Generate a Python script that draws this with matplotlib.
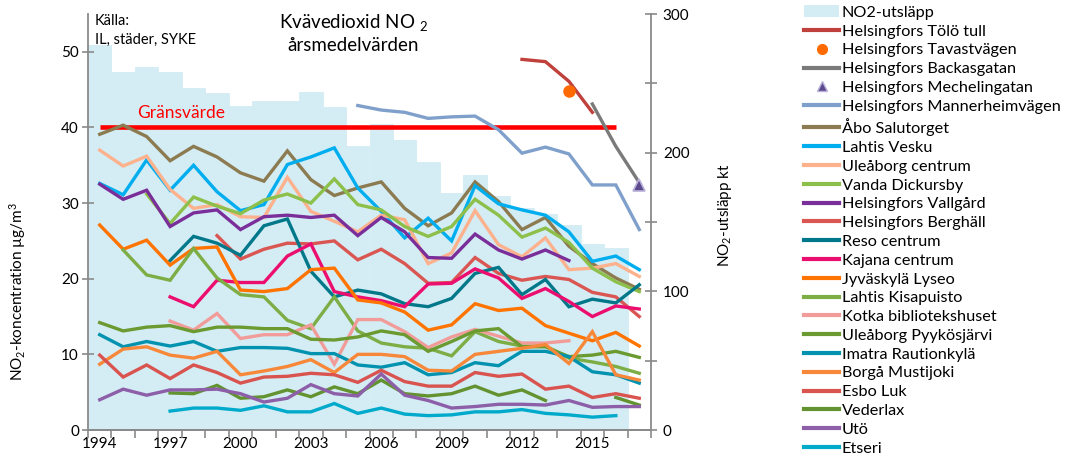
import matplotlib.pyplot as plt
import numpy as np
from matplotlib.lines import Line2D
from matplotlib.patches import Patch

nan = np.nan

# Data
years = list(range(1994, 2018))
emission_years = list(range(1994, 2017))
emission_kt = [277.8, 258.5, 262, 258.5, 246.5, 243, 234, 237, 237, 244, 232.8, 205,
               220.8, 209, 193, 171, 184, 168.5, 160, 155.5, 147.5, 134, 131]

tolo_tull = [nan] * 18 + [49.0, 48.7, 46.1, 42.0, nan, nan]
tavastvagen = [nan] * 20 + [44.8, nan, nan, nan]
backasgatan = [nan] * 21 + [43.1, 37.5, 32.7]
mechelingatan = [nan] * 23 + [32.4]
mannerheimvagen = [nan] * 11 + [42.9, 42.3, 42.0, 41.2, 41.4, 41.5, 39.7, 36.6, 37.4, 36.5, 32.4, 32.4, 26.5]
abo_salutorget = [39.1, 40.3, 38.8, 35.6, 37.5, 36.1, 34.0, 32.9, 36.9, 33.1, 31.0, 32.0,
                  32.8, 29.3, 27.0, 28.7, 32.8, 30.2, 26.5, 28.1, 24.3, 22.0, 20.1, 18.6]
lahtis_vesku = [32.6, 31.1, 35.7, 31.7, 35.0, 31.5, 29.0, 29.8, 35.1, 36.1, 37.3, 32.0,
                28.9, 25.4, 28.0, 25.0, 32.3, 29.9, 29.1, 28.4, 26.2, 22.3, 23.0, 21.2]
uleaborg_centrum = [37.0, 34.9, 36.2, 31.8, 29.3, 29.8, 28.2, 28.1, 33.4, 28.9, 27.6, 26.2,
                    28.4, 27.8, 22.0, 23.4, 29.0, 24.5, 22.9, 25.4, 21.2, 21.4, 22.0, 20.3]
vanda_dickursby = [nan, nan, 31.2, 27.3, 30.8, 29.6, 28.6, 30.4, 31.2, 30.0, 33.2, 29.8,
                   29.1, 26.9, 25.6, 26.9, 30.5, 28.4, 25.5, 26.7, 24.8, 21.4, 19.6, 18.3]
vallgard = [32.5, 30.5, 31.7, 26.9, 28.7, 29.1, 26.5, 28.2, 28.4, 28.1, 28.4, 25.7,
            28.1, 26.2, 22.8, 22.7, 25.9, 23.8, 22.6, 23.8, 22.4, nan, nan, nan]
berghall = [nan, nan, nan, nan, nan, 25.7, 22.6, 23.9, 24.7, 24.6, 25.0, 22.5,
            23.9, 22.0, 19.4, 19.5, 22.8, 20.7, 19.8, 20.3, 19.9, 18.2, 17.6, 15.0]
reso_centrum = [nan, nan, nan, 22.4, 25.6, 24.7, 23.1, 27.0, 27.9, 21.0, 17.6, 18.5,
                18.0, 16.7, 16.3, 17.4, 20.7, 21.5, 17.9, 19.9, 16.3, 17.3, 16.8, 19.2]
kajana_centrum = [nan, nan, nan, 17.6, 16.3, 19.8, 19.5, 19.5, 23.0, 24.6, 18.3, 17.6,
                  17.1, 16.3, 19.3, 19.4, 21.3, 20.1, 17.4, 18.7, 17.0, 15.0, 16.4, 16.0]
jyvaskyla_lyseo = [27.1, 23.9, 25.1, 21.8, 24.0, 24.2, 18.5, 18.3, 18.7, 21.2, 21.4, 17.2,
                   16.8, 15.6, 13.2, 13.9, 16.7, 15.8, 16.1, 13.8, 12.8, 11.8, 12.9, 11.1]
lahtis_kisapuisto = [nan, 23.8, 20.5, 19.8, 24.0, 20.1, 17.9, 17.6, 14.5, 13.4, 17.6, 13.1,
                     11.5, 11.0, 10.8, 9.8, 13.0, 11.7, 11.1, 11.1, 9.5, 9.0, 8.4, 7.5]
kotka = [nan, nan, nan, 14.4, 13.2, 15.4, 12.1, 12.6, 12.6, 13.9, 8.7, 14.6,
         14.6, 13.0, 10.9, 12.3, 13.3, 12.4, 11.5, 11.5, 11.8, nan, nan, nan]
pyykosjarvi = [14.2, 13.1, 13.6, 13.8, 13.0, 13.6, 13.6, 13.4, 13.4, 12.0, 11.9, 12.3,
               13.1, 12.6, 10.4, 11.7, 13.1, 13.4, 11.0, 11.0, 9.7, 9.9, 10.4, 9.6]
imatra = [12.6, 11.0, 11.7, 11.1, 11.7, 10.4, 10.9, 10.9, 10.8, 10.1, 10.1, 8.6,
          8.3, 8.9, 7.3, 7.6, 8.9, 8.5, 10.4, 10.4, 9.7, 7.7, 7.3, 6.2]
borga = [8.7, 10.7, 11.0, 9.9, 9.5, 10.4, 7.3, 7.8, 8.4, 9.3, 7.6, 10.0,
         10.0, 9.7, 7.9, 7.8, 10.0, 10.4, 10.8, 11.3, 8.8, 13.0, 7.3, 6.6]
esbo_luk = [9.9, 7.0, 8.6, 6.8, 8.6, 7.6, 6.2, 7.0, 7.1, 7.5, 7.3, 6.3,
            7.9, 6.4, 5.8, 5.8, 7.6, 7.1, 7.4, 5.4, 5.8, 4.3, 4.8, 4.2]
vederlax = [nan, nan, nan, 4.9, 4.8, 5.9, 4.2, 4.4, 5.3, 4.4, 5.7, 4.8,
            6.6, 4.8, 4.5, 4.8, 5.8, 4.6, 5.3, 3.9, nan, nan, 4.3, 3.3]
uto = [4.0, 5.4, 4.6, 5.3, 5.3, 5.4, 4.8, 3.7, 4.2, 6.0, 4.8, 4.5,
       7.4, 4.6, 3.9, 2.9, 3.1, 3.4, 3.4, 3.3, 3.9, 3.0, 3.1, 3.1]
etseri = [nan, nan, nan, 2.5, 2.9, 2.9, 2.6, 3.2, 2.4, 2.4, 3.5, 2.2,
          2.9, 2.1, 1.9, 2.0, 2.4, 2.4, 2.7, 2.2, 2.0, 1.7, 1.9, nan]

limit_value = 40
label_years = [1994, 1997, 2000, 2003, 2006, 2009, 2012, 2015]

# (label, values, colour) for line series
line_series = [
    ('Helsingfors Tölö tull', tolo_tull, '#c0413b'),
    ('Helsingfors Backasgatan', backasgatan, '#7a7a7a'),
    ('Helsingfors Mannerheimvägen', mannerheimvagen, '#80a0cc'),
    ('Åbo Salutorget', abo_salutorget, '#8c7b50'),
    ('Lahtis Vesku', lahtis_vesku, '#00aeef'),
    ('Uleåborg centrum', uleaborg_centrum, '#fdb18c'),
    ('Vanda Dickursby', vanda_dickursby, '#8dc04a'),
    ('Helsingfors Vallgård', vallgard, '#7a2e9a'),
    ('Helsingfors Berghäll', berghall, '#da5652'),
    ('Reso centrum', reso_centrum, '#00788a'),
    ('Kajana centrum', kajana_centrum, '#ec0e6e'),
    ('Jyväskylä Lyseo', jyvaskyla_lyseo, '#ff7300'),
    ('Lahtis Kisapuisto', lahtis_kisapuisto, '#7dae45'),
    ('Kotka bibliotekshuset', kotka, '#f29c9a'),
    ('Uleåborg Pyykösjärvi', pyykosjarvi, '#6a9a30'),
    ('Imatra Rautionkylä', imatra, '#0092ae'),
    ('Borgå Mustijoki', borga, '#f7883a'),
    ('Esbo Luk', esbo_luk, '#d9534f'),
    ('Vederlax', vederlax, '#639330'),
    ('Utö', uto, '#8c5fa8'),
    ('Etseri', etseri, '#00aacb'),
]

# Style settings
plt.rcParams['font.family'] = ['Lato', 'DejaVu Sans']
plt.rcParams['mathtext.fontset'] = 'custom'
plt.rcParams['mathtext.rm'] = 'Lato'
bar_color = '#d4ecf4'
axis_gray = '#8a8a8a'
lw = 2.4
fontsize = 11

fig = plt.figure(figsize=(10.68, 4.54), dpi=100)
ax2 = fig.add_axes([88 / 1068, 24 / 454, 563 / 1068, 416 / 454])
ax = ax2.twinx()
ax.yaxis.tick_left()
ax2.yaxis.tick_right()
ax.set_zorder(ax2.get_zorder() + 1)
ax.patch.set_visible(False)

# emissions as background bars on the right axis
ax2.bar(emission_years, emission_kt, width=1.0, color=bar_color, edgecolor=bar_color,
        linewidth=0.6)
ax2.set_ylim(0, 300)

# limit value
ax.plot([1994, 2016], [limit_value, limit_value], color='#ff0000', lw=3.3, solid_capstyle='butt')
ax.text(1995.6, 41.3, 'Gränsvärde', color='#ff0000', fontsize=12.5)

for label, values, color in line_series:
    ax.plot(years, values, color=color, lw=lw, solid_joinstyle='miter')

ax.plot(years, tavastvagen, 'o', color='#ff6a00', ms=8, mec='#ff6a00')
ax.plot(years, mechelingatan, '^', color='#5c4a8c', ms=9, mec='#b9b1da', mew=1.2)

ax.set_ylim(0, 55)
ax.set_xlim(1993.5, 2017.5)

# ticks
ax.set_yticks(range(0, 51, 10))
ax.tick_params(axis='y', direction='inout', length=9, width=1.2, color=axis_gray,
               labelsize=fontsize, pad=2, left=True, right=False, labelleft=True, labelright=False)
ax2.set_yticks([0, 100, 200, 300])
ax2.set_yticks([50, 150, 250], minor=True)
ax2.tick_params(axis='y', which='both', direction='inout', length=9, width=1.2, color=axis_gray,
                labelsize=fontsize, pad=4, left=False, labelleft=False)
ax2.set_xticks(label_years)
ax2.set_xticks(np.arange(1993.5, 2018, 1), minor=True)
ax2.tick_params(axis='x', which='major', length=0, labelsize=fontsize, pad=5)
ax2.tick_params(axis='x', which='minor', length=6, width=1.2, color=axis_gray, direction='out')
ax.tick_params(axis='x', which='both', bottom=False, labelbottom=False)

for a in (ax, ax2):
    a.spines['top'].set_visible(False)
    for s in ('left', 'right', 'bottom'):
        a.spines[s].set_color(axis_gray)
        a.spines[s].set_linewidth(1.3)
ax.spines['right'].set_visible(False)
ax2.spines['left'].set_visible(False)

# texts
fig.text(95 / 1068, 1 - 30 / 454, 'Källa:\nIL, städer, SYKE', fontsize=10.5, va='center',
         linespacing=1.45)
fig.text(353 / 1068, 1 - 33 / 454, 'Kvävedioxid NO $\\mathregular{_2}$\nårsmedelvärden',
         fontsize=13.5, ha='center', va='center', linespacing=1.25)
fig.text(18 / 1068, 1 - 292 / 454, 'NO$\\mathregular{_2}$-koncentration µg/m$\\mathregular{^3}$',
         rotation=90, fontsize=fontsize, ha='center', va='center')
fig.text(725 / 1068, 1 - 215 / 454, 'NO$\\mathregular{_2}$-utsläpp kt',
         rotation=90, fontsize=fontsize, ha='center', va='center')

# legend
handles = [Patch(facecolor=bar_color, edgecolor='none')]
labels = ['NO2-utsläpp']
color_of = {lab: col for lab, _, col in line_series}
order = ['Helsingfors Tölö tull', 'Helsingfors Tavastvägen', 'Helsingfors Backasgatan',
         'Helsingfors Mechelingatan'] + [lab for lab, _, _ in line_series[2:]]
for lab in order:
    if lab == 'Helsingfors Tavastvägen':
        handles.append(Line2D([], [], ls='none', marker='o', color='#ff6a00', ms=7))
    elif lab == 'Helsingfors Mechelingatan':
        handles.append(Line2D([], [], ls='none', marker='^', color='#5c4a8c', ms=7,
                              mec='#b9b1da', mew=1.0))
    else:
        handles.append(Line2D([], [], color=color_of[lab], lw=3))
    labels.append(lab)

fig.legend(handles, labels, loc='upper left', bbox_to_anchor=(802 / 1068, 1 - 3 / 454),
           frameon=False, fontsize=11.7, handlelength=2.1, handletextpad=0.2,
           labelspacing=0.272, borderaxespad=0, borderpad=0.15)

plt.savefig('out.png', dpi=100)
